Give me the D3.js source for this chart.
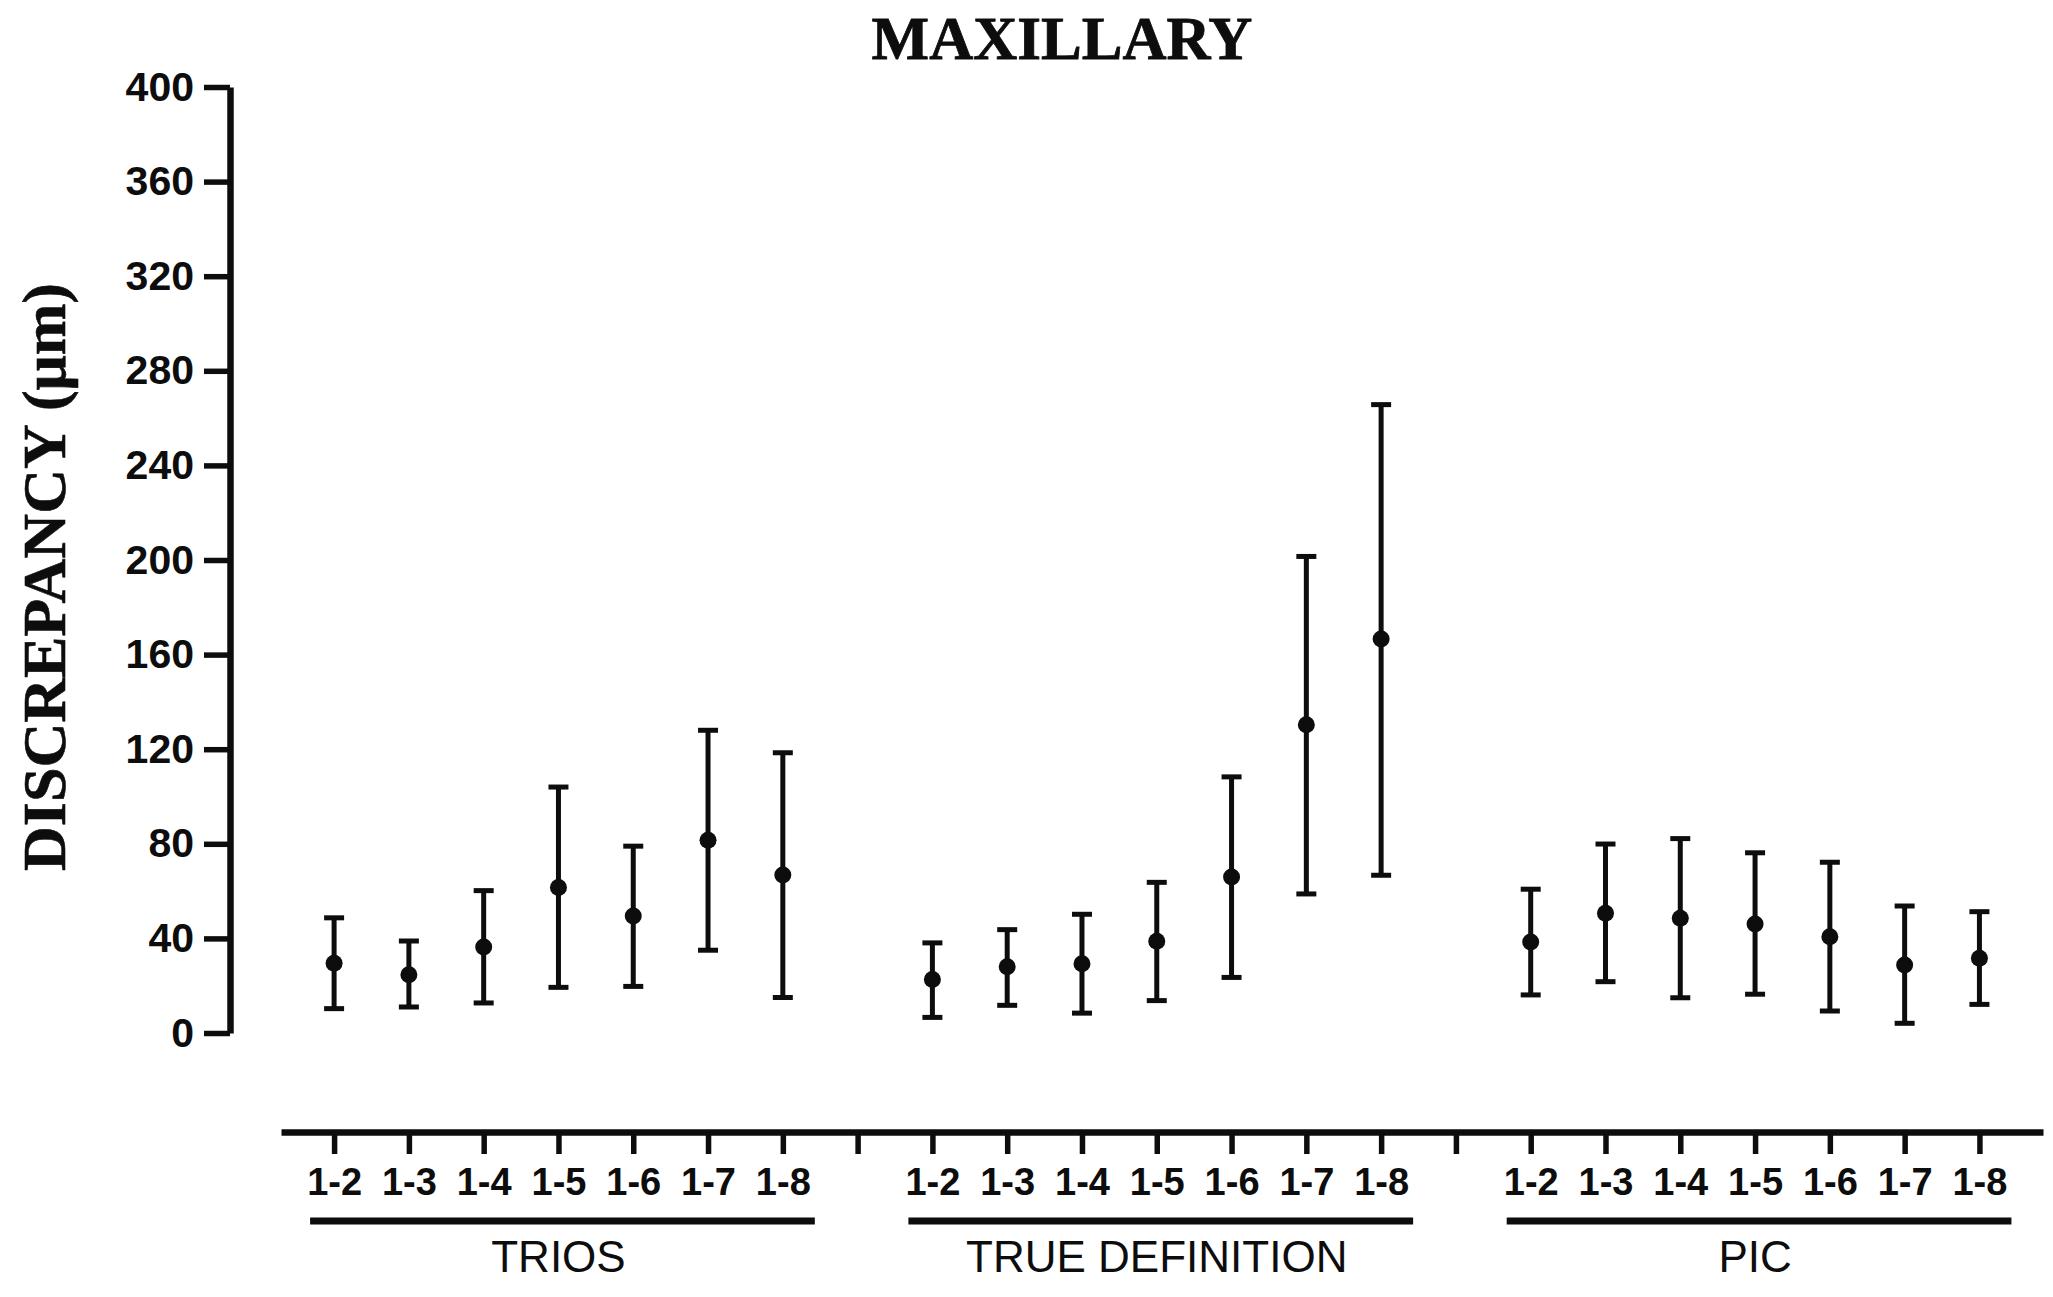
<!DOCTYPE html>
<html>
<head>
<meta charset="utf-8">
<script src="https://cdn.jsdelivr.net/npm/d3@7"></script>
<style>
  html, body { margin: 0; padding: 0; background: #ffffff; }
  svg { display: block; }
</style>
</head>
<body>
<svg id="chart" width="2053" height="1297"></svg>
<script>
// ---------------- DATA ----------------
const categories = ["1-2", "1-3", "1-4", "1-5", "1-6", "1-7", "1-8"];
const groups = ["TRIOS", "TRUE DEFINITION", "PIC"];

const triosMean  = [29.5, 24.6, 36.4, 61.5, 49.5, 81.5, 66.8];
const triosUpper = [48.7, 38.9, 60.2, 104.0, 79.0, 128.0, 118.5];
const triosLower = [10.3, 11.0, 12.7, 19.3, 19.7, 35.0, 15.0];

const tdMean  = [22.6, 28.0, 29.3, 38.8, 66.0, 130.3, 166.6];
const tdUpper = [38.1, 43.7, 50.2, 63.7, 108.3, 201.5, 265.7];
const tdLower = [6.6, 11.7, 8.4, 13.7, 23.5, 58.8, 66.7];

const picMean  = [38.5, 50.6, 48.5, 46.1, 40.7, 28.8, 31.6];
const picUpper = [60.8, 79.9, 82.2, 76.2, 72.2, 53.7, 51.3];
const picLower = [16.1, 21.7, 14.9, 16.4, 9.3, 4.1, 12.1];

const yTicks = [0, 40, 80, 120, 160, 200, 240, 280, 320, 360, 400];
const titleText = "MAXILLARY";
const yTitleText = "DISCREPANCY (\u03bcm)";

// ---------------- BUILD ----------------
const seriesMean  = [triosMean, tdMean, picMean];
const seriesUpper = [triosUpper, tdUpper, picUpper];
const seriesLower = [triosLower, tdLower, picLower];

const slotsPerGroup = categories.length + 1; // one empty slot between groups
const points = [];
groups.forEach((g, gi) => {
  categories.forEach((c, ci) => {
    points.push({
      group: g, cat: c, idx: gi * slotsPerGroup + ci,
      mean: seriesMean[gi][ci], lo: seriesLower[gi][ci], hi: seriesUpper[gi][ci]
    });
  });
});
const lastIdx = (groups.length - 1) * slotsPerGroup + categories.length - 1;
const tickIdx = d3.range(0, lastIdx + 1);
const labelOf = new Map(points.map(p => [p.idx, p.cat]));

const svg = d3.select("#chart");
const ink = "#0d0d0d";

const x = d3.scaleLinear().domain([-0.71, lastIdx + 0.85]).range([281, 2043]);
const y = d3.scaleLinear().domain([0, 400]).range([1033, 87]);

// Title
svg.append("text")
  .attr("x", 1062).attr("y", 59)
  .attr("text-anchor", "middle")
  .style("font-family", "'Liberation Serif', 'Times New Roman', serif")
  .style("font-weight", "bold")
  .style("font-size", "61px")
  .attr("fill", ink)
  .attr("stroke", ink).attr("stroke-width", 0.8)
  .text(titleText);

// Y axis title
svg.append("text")
  .attr("transform", "translate(65,577) rotate(-90)")
  .attr("text-anchor", "middle")
  .style("font-family", "'Liberation Serif', 'Times New Roman', serif")
  .style("font-weight", "bold")
  .style("font-size", "62px")
  .attr("fill", ink)
  .attr("stroke", ink).attr("stroke-width", 0.6)
  .text(yTitleText);

// Y axis
const yAxis = d3.axisLeft(y).tickValues(yTicks).tickSize(26).tickSizeOuter(0).tickPadding(10);
const gy = svg.append("g").attr("transform", "translate(230,0)").call(yAxis);
gy.select(".domain").attr("stroke", ink).attr("stroke-width", 6.5);
gy.selectAll(".tick line").attr("stroke", ink).attr("stroke-width", 5.5);
gy.selectAll(".tick text")
  .attr("fill", ink)
  .style("font-family", "'Liberation Sans', Arial, sans-serif")
  .style("font-weight", "bold")
  .style("font-size", "41px");

// X axis
const xAxis = d3.axisBottom(x).tickValues(tickIdx).tickSize(22).tickSizeOuter(0).tickPadding(14)
  .tickFormat(i => labelOf.get(i) || "");
const gx = svg.append("g").attr("transform", "translate(0,1132)").call(xAxis);
gx.select(".domain").attr("stroke", ink).attr("stroke-width", 6.5);
gx.selectAll(".tick line").attr("stroke", ink).attr("stroke-width", 5.5);
gx.selectAll(".tick text")
  .attr("fill", ink)
  .style("font-family", "'Liberation Sans', Arial, sans-serif")
  .style("font-weight", "bold")
  .style("font-size", "38px");

// Group underlines and labels
const grp = svg.append("g");
groups.forEach((g, gi) => {
  const first = gi * slotsPerGroup;
  const last = first + categories.length - 1;
  grp.append("line")
    .attr("x1", x(first) - 24).attr("x2", x(last) + 32)
    .attr("y1", 1221).attr("y2", 1221)
    .attr("stroke", ink).attr("stroke-width", 7);
  grp.append("text")
    .attr("x", x((first + last) / 2)).attr("y", 1272)
    .attr("text-anchor", "middle")
    .style("font-family", "'Liberation Sans', Arial, sans-serif")
    .style("font-size", "44px")
    .attr("fill", ink)
    .text(g);
});

// Error bars + means
const capW = 20;
const marks = svg.append("g").selectAll("g").data(points).join("g");
marks.append("line")
  .attr("x1", d => x(d.idx)).attr("x2", d => x(d.idx))
  .attr("y1", d => y(d.hi)).attr("y2", d => y(d.lo))
  .attr("stroke", ink).attr("stroke-width", 5);
marks.append("line")
  .attr("x1", d => x(d.idx) - capW / 2).attr("x2", d => x(d.idx) + capW / 2)
  .attr("y1", d => y(d.hi)).attr("y2", d => y(d.hi))
  .attr("stroke", ink).attr("stroke-width", 5);
marks.append("line")
  .attr("x1", d => x(d.idx) - capW / 2).attr("x2", d => x(d.idx) + capW / 2)
  .attr("y1", d => y(d.lo)).attr("y2", d => y(d.lo))
  .attr("stroke", ink).attr("stroke-width", 5);
marks.append("circle")
  .attr("cx", d => x(d.idx)).attr("cy", d => y(d.mean))
  .attr("r", 8.5).attr("fill", ink);
</script>
</body>
</html>
